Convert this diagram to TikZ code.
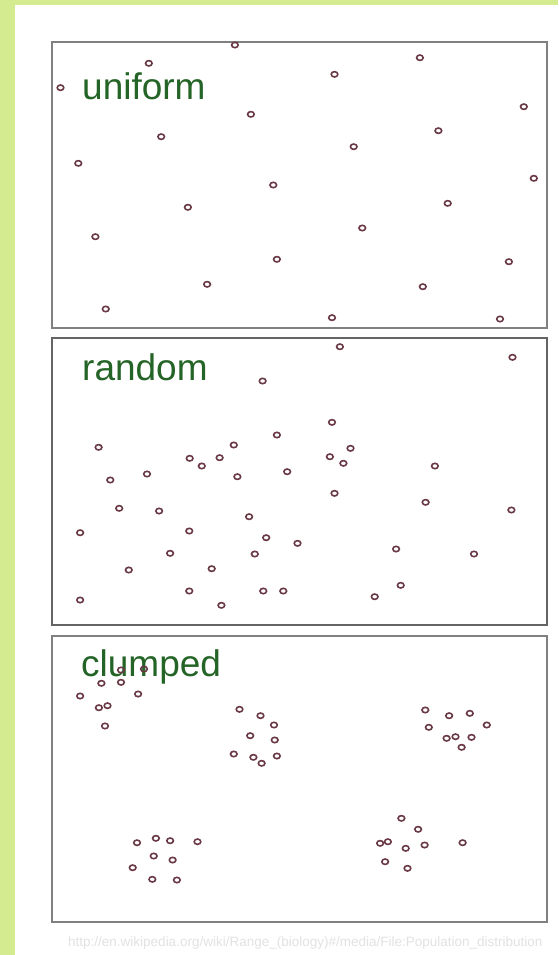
\documentclass[tikz,border=0pt]{standalone}
\usepackage{fontspec}
\setmainfont{Liberation Sans}
\definecolor{bggreen}{RGB}{213,235,143}
\definecolor{framegray}{RGB}{128,128,128}
\definecolor{framedark}{RGB}{100,100,100}
\definecolor{dotcol}{RGB}{105,58,70}
\definecolor{labelgreen}{RGB}{36,100,38}
\definecolor{footgray}{RGB}{226,226,226}
\tikzset{
  panel/.style={draw=framegray, line width=2pt},
  dotmark/.style={draw=dotcol, line width=1.6pt},
  paneltitle/.style={anchor=base west, inner sep=0pt, text=labelgreen, font=\fontsize{37}{40}\selectfont},
}
\begin{document}
\begin{tikzpicture}[x=1pt,y=-1pt]
\useasboundingbox (0,0) rectangle (558,955);
\fill[bggreen] (0,0) rectangle (558,955);
\fill[white] (15,5) rectangle (558,955);
% panels
\draw[panel] (52,42) rectangle (547,328);
\draw[panel, draw=framedark] (52,338) rectangle (547,625);
\draw[panel] (52,636) rectangle (547,922);
% titles
\node[paneltitle] (uniform) at (82,100) {uniform};
\node[paneltitle] (random) at (82,380.5) {random};
\node[paneltitle] (clumped) at (81,676.5) {clumped};
% uniform dots
\foreach \x/\y in {60.5/87.7, 148.8/63.3, 234.9/45, 334.5/74.3, 419.9/57.7, 523.8/106.7,
  250.9/114.3, 161.2/136.7, 438.4/130.7, 353.7/146.7, 78.3/163.3, 533.8/178.3,
  273.3/185, 187.9/207.3, 447.7/203.3, 362.3/228, 95.4/236.7, 276.9/259.3,
  508.9/261.7, 207.1/284.3, 422.8/286.7, 105.7/309, 332/317.7, 500/319}
  \draw[dotmark] (\x,\y) ellipse [x radius=3.3pt, y radius=2.7pt];
% random dots
\foreach \x/\y in {339.9/346.7, 512.5/357.3, 262.6/381, 332/422.3, 276.9/435, 98.6/447.3,
  233.8/445, 350.5/448.3, 189.7/458.3, 201.8/466, 219.6/457.7, 329.9/456.7,
  343.4/463.3, 434.9/466, 110.3/480, 147/474, 237.4/476.7, 287.2/471.7,
  334.5/493.3, 425.6/502.3, 511.4/510, 119.2/508.3, 159.1/511, 249.1/516.7,
  80.1/532.7, 189.3/531, 266.2/537.7, 297.5/543.3, 396.1/549, 474/554,
  170.1/553.3, 254.8/554, 128.8/570, 211.7/568.7, 189.3/591, 263.3/591,
  283.3/591, 400.7/585.3, 374.7/596.7, 80.1/600, 221.4/605.3}
  \draw[dotmark] (\x,\y) ellipse [x radius=3.3pt, y radius=2.7pt];
% clumped dots
\foreach \x/\y in {121/670, 144/669, 101.4/683.3, 121/682.3, 80.1/696, 138.1/694, 98.9/707.7, 107.5/705.7, 105/726,
  239.5/709.3, 260.5/715.7, 274/725, 250.2/735.7, 274.7/740, 233.8/754, 253.4/757.3, 261.6/763.3, 276.9/756,
  425.3/710, 449.1/715.7, 469.8/713.3, 486.8/725, 428.8/727.3, 446.6/738.3, 455.5/736.7, 471.5/737.3, 461.6/747.3,
  137/842.7, 155.9/838.3, 170.1/840.7, 197.5/841.7, 153.7/856, 172.6/860, 132.7/867.7, 152.3/879.3, 176.9/880,
  401.4/818.3, 418.1/829.3, 380.1/843.3, 387.9/841.7, 405.7/848.3, 424.6/845, 462.6/842.7, 385.1/861.7, 407.5/868.3}
  \draw[dotmark] (\x,\y) ellipse [x radius=3.3pt, y radius=2.7pt];
% footer
\node[anchor=base west, inner sep=0pt, text=footgray, font=\fontsize{13.5}{16}\selectfont] (source) at (68,946)
  {http://en.wikipedia.org/wiki/Range\_(biology)\#/media/File:Population\_distribution};
\end{tikzpicture}
\end{document}
